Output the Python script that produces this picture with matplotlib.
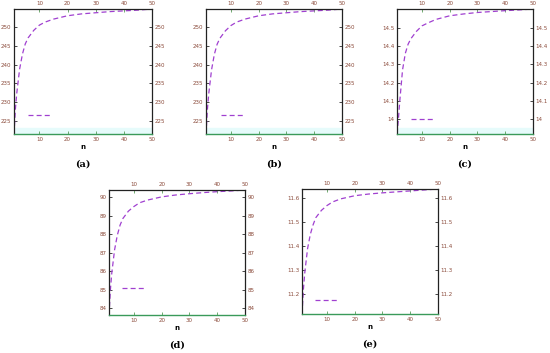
import matplotlib.pyplot as plt
from matplotlib.lines import Line2D

W, H = 550, 353

n = [1, 1.5, 2, 3, 4, 5, 6, 8, 10, 12, 15, 20, 25, 30, 35, 40, 45, 50]
ya = [221.5, 228.2, 232.5, 238.8, 242.8, 245.5, 247.1, 249.1, 250.5, 251.3,
      252.1, 253.0, 253.5, 253.8, 254.1, 254.3, 254.5, 254.8]
yb = [221.5, 228.0, 232.3, 238.6, 242.7, 245.4, 247.0, 249.0, 250.4, 251.3,
      252.1, 253.0, 253.5, 253.8, 254.1, 254.3, 254.5, 254.8]
yc = [13.92, 14.00, 14.10, 14.27, 14.36, 14.41, 14.44, 14.48, 14.51, 14.525,
      14.545, 14.565, 14.575, 14.583, 14.588, 14.593, 14.597, 14.602]
yd = [83.64, 85.0, 85.9, 87.15, 87.95, 88.5, 88.85, 89.25, 89.5, 89.7,
      89.85, 90.02, 90.12, 90.19, 90.25, 90.3, 90.34, 90.39]
ye = [11.118, 11.22, 11.29, 11.39, 11.45, 11.49, 11.52, 11.55, 11.57, 11.585,
      11.598, 11.611, 11.618, 11.623, 11.627, 11.631, 11.635, 11.639]

xticks = [10, 20, 30, 40, 50]
yticks_ab = [225, 230, 235, 240, 245, 250]
yticks_c = [14, 14.1, 14.2, 14.3, 14.4, 14.5]
yticks_d = [84, 85, 86, 87, 88, 89, 90]
yticks_e = [11.2, 11.3, 11.4, 11.5, 11.6]
captions = ['(a)', '(b)', '(c)', '(d)', '(e)']

# panel boxes in pixels: left, top, right, bottom
boxes = [(14, 9, 152, 134), (206, 9, 342, 134), (397, 9, 533, 134),
         (109, 190, 245, 315), (302, 189, 438, 314)]
ylims = [(221.5, 254.8), (221.5, 254.8), (13.92, 14.602),
         (83.64, 90.39), (11.118, 11.639)]
legpos = [(0.10, 0.145), (0.11, 0.152), (0.10, 0.118), (0.093, 0.21), (0.096, 0.106)]
series = [ya, yb, yc, yd, ye]
yticks = [yticks_ab, yticks_ab, yticks_c, yticks_d, yticks_e]

fig = plt.figure(figsize=(W / 100, H / 100), dpi=100)

line_col = '#a040d0'
lab_col = '#8a4a3a'

for i in range(5):
    l, t, r, b = boxes[i]
    ax = fig.add_axes([l / W, 1 - b / H, (r - l) / W, (b - t) / H])
    ax.plot(n, series[i], color=line_col, ls=(0, (4, 2.5)), lw=0.9)
    ax.set_xlim(1, 50)
    ax.set_ylim(*ylims[i])
    if i < 3:
        lo = ylims[i][0]
        ax.axhspan(lo, lo + (ylims[i][1] - lo) * 0.05, color='#e6fbfb', zorder=0)
    ax.set_xticks(xticks)
    ax.set_yticks(yticks[i])
    ax.set_yticklabels([str(v) for v in yticks[i]])
    ax.tick_params(direction='in', length=2, width=0.5, labelsize=4,
                   labelcolor=lab_col, pad=2, top=True, right=True,
                   labeltop=True, labelright=True)
    ax.tick_params(axis='x', which='both', color='#3a8a3a')
    for s in ['left', 'right', 'top']:
        ax.spines[s].set_color('#222222')
        ax.spines[s].set_linewidth(0.9)
    ax.spines['bottom'].set_color('#3a9a5a')
    ax.spines['bottom'].set_linewidth(1.0)
    ax.set_xlabel('n', fontsize=5, labelpad=1.5, fontweight='bold')

    h = Line2D([], [], color=line_col, ls=(0, (4, 2.5)), lw=0.9)
    ax.legend([h], [''], loc='center left', bbox_to_anchor=legpos[i],
              frameon=False, borderpad=0, borderaxespad=0, handletextpad=0,
              handlelength=3.3, fontsize=5)

    fig.text((l + r) / 2 / W, 1 - (b + 30.5) / H, captions[i], ha='center',
             va='center', fontsize=7, family='DejaVu Serif', fontweight='bold')

fig.savefig('out.png', dpi=100)
